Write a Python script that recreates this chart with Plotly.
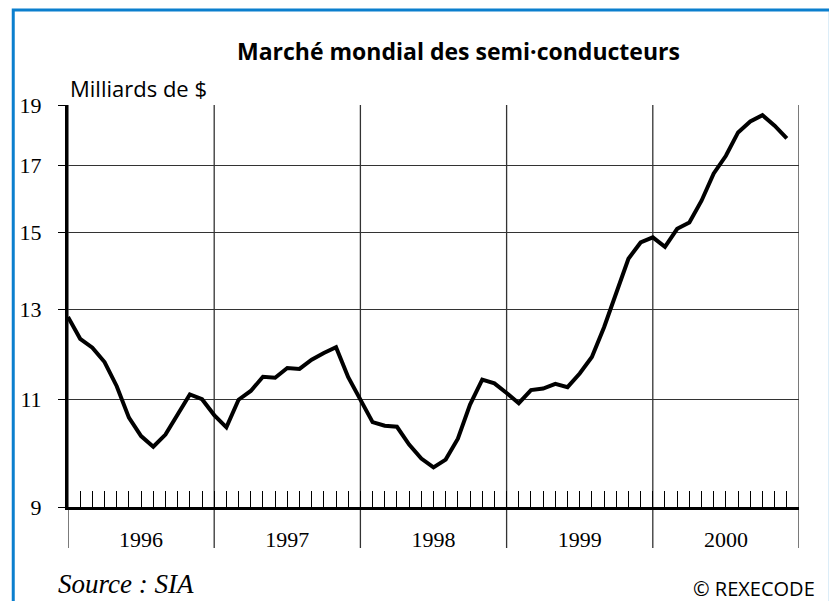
import math
import plotly.graph_objects as go

# Marché mondial des semi-conducteurs, mensuel 1996-2000 (milliards de $)
years = ["1996", "1997", "1998", "1999", "2000"]
months_per_year = 12
values = [
    12.82, 12.31, 12.11, 11.79, 11.27, 10.63, 10.27, 10.07, 10.30, 10.71, 11.10, 11.00,
    10.68, 10.44, 10.99, 11.17, 11.47, 11.45, 11.66, 11.64, 11.84, 11.99, 12.12, 11.46,
    10.97, 10.54, 10.47, 10.45, 10.11, 9.85, 9.69, 9.83, 10.22, 10.89, 11.41, 11.33,
    11.13, 10.92, 11.19, 11.22, 11.32, 11.25, 11.54, 11.90, 12.58, 13.42, 14.29, 14.73,
    14.87, 14.61, 15.11, 15.29, 15.92, 16.75, 17.31, 18.08, 18.45, 18.67, 18.31, 17.88,
]
y_ticks = [9, 11, 13, 15, 17, 19]

n_months = len(years) * months_per_year
x_months = list(range(len(values)))
year_mid = [i * months_per_year + months_per_year / 2 for i in range(len(years))]
year_edges = [i * months_per_year for i in range(len(years) + 1)]

serif = "Liberation Serif, Times New Roman, serif"
sans = "Open Sans, Noto Sans, sans-serif"

fig = go.Figure()
fig.add_trace(go.Scatter(
    x=x_months, y=values, mode="lines",
    line=dict(color="black", width=4), hoverinfo="skip", showlegend=False,
))

# vertical year lines, running below the axis
for e in year_edges:
    fig.add_shape(type="line", xref="x", yref="paper", x0=e, x1=e, y0=-0.102, y1=1,
                  line=dict(color="#333333", width=1.3), layer="below")

# blue frame
fig.add_shape(type="rect", xref="paper", yref="paper",
              x0=-0.0749, x1=1.0429, y0=-0.30, y1=1.2363,
              line=dict(color="#0b7fce", width=3))

# the page adds an 8px body margin, so the margins are trimmed to compensate
fig.update_layout(
    width=837, height=601,
    margin=dict(l=57, r=46, t=97, b=102),
    paper_bgcolor="white", plot_bgcolor="white",
    showlegend=False,
    xaxis=dict(
        range=[0, n_months], showgrid=False, zeroline=False,
        showline=True, linecolor="black", linewidth=3,
        tickmode="array", tickvals=year_mid, ticktext=years,
        ticks="inside", ticklen=16, tickwidth=1, tickcolor="black",
        ticklabelstandoff=11,
        tickfont=dict(family=serif, size=22, color="black"),
        minor=dict(tickmode="linear", tick0=0, dtick=1, ticks="inside",
                   ticklen=16, tickwidth=1, tickcolor="black"),
        fixedrange=True,
    ),
    yaxis=dict(
        type="log", range=[math.log10(9), math.log10(19) + 0.0006],
        tickmode="array", tickvals=y_ticks, ticktext=[str(t) for t in y_ticks],
        showgrid=True, gridcolor="#333333", gridwidth=1.3, zeroline=False,
        showline=True, linecolor="black", linewidth=3,
        ticks="outside", ticklen=7, tickwidth=1, tickcolor="black",
        ticklabelstandoff=12,
        tickfont=dict(family=serif, size=22, color="black"),
        fixedrange=True,
    ),
    annotations=[
        dict(text="<b>Marché mondial des semi·conducteurs</b>", xref="paper", yref="paper",
             x=0.534, y=1.134, xanchor="center", yanchor="middle", showarrow=False,
             font=dict(family=sans, size=23, color="black")),
        dict(text="Milliards de $", xref="paper", yref="paper",
             x=0.0, y=1.0, xanchor="left", yanchor="bottom", showarrow=False,
             font=dict(family=sans, size=22, color="black")),
        dict(text="<i>Source : SIA</i>", xref="paper", yref="paper",
             x=-0.016, y=-0.1915, xanchor="left", yanchor="middle", showarrow=False,
             font=dict(family=serif, size=27, color="black")),
        dict(text="© REXECODE", xref="paper", yref="paper",
             x=1.024, y=-0.203, xanchor="right", yanchor="middle", showarrow=False,
             font=dict(family=sans, size=20, color="black")),
    ],
)

fig.write_html("out.html")
